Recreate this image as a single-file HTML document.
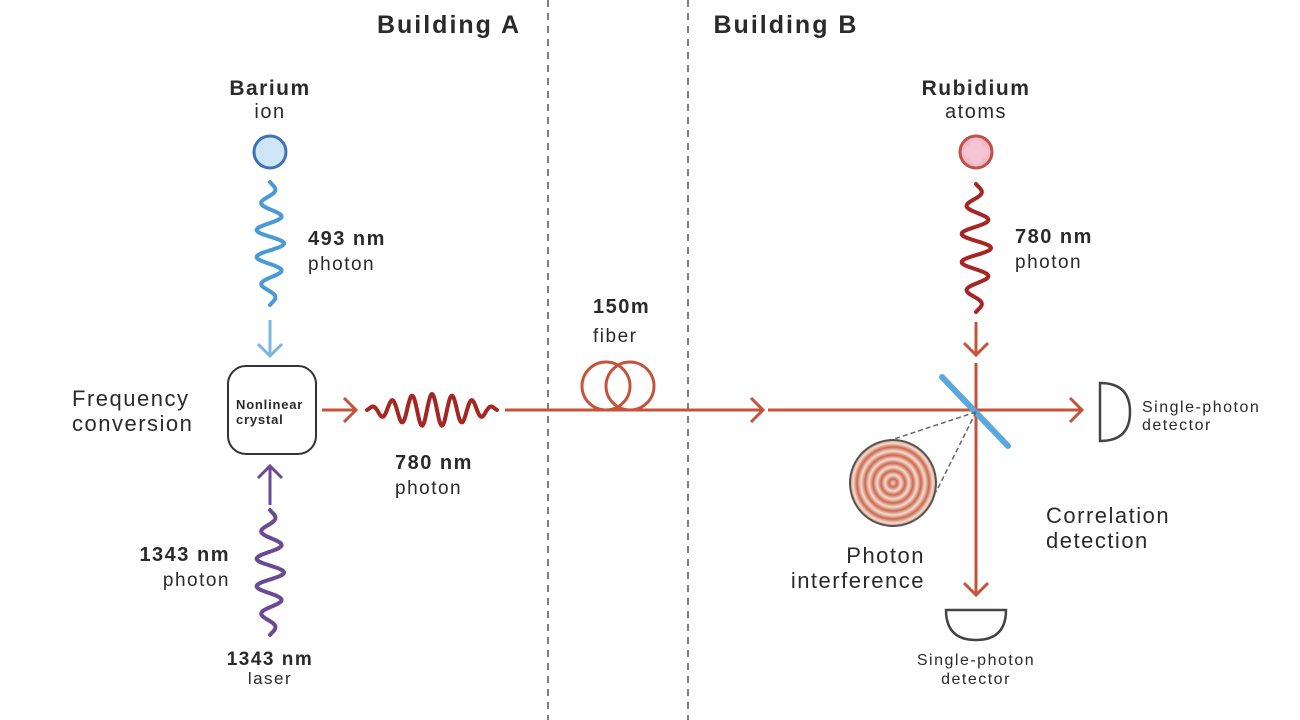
<!DOCTYPE html>
<html><head><meta charset="utf-8"><style>
body{margin:0;background:#fff}
svg{display:block}
text{font-family:"Liberation Sans",sans-serif;fill:#2a2a2a;letter-spacing:1.5px}
</style></head><body>
<svg id="s" width="1300" height="720" viewBox="0 0 1300 720" xmlns="http://www.w3.org/2000/svg">
<line x1="548" y1="0" x2="548" y2="720" stroke="#555" stroke-width="1.5" stroke-dasharray="7,6"/>
<line x1="688" y1="0" x2="688" y2="720" stroke="#555" stroke-width="1.5" stroke-dasharray="7,6"/>
<text x="449" y="33" font-size="25" text-anchor="middle" font-weight="bold" fill="#333" style="letter-spacing:2px">Building A</text>
<text x="786" y="33" font-size="25" text-anchor="middle" font-weight="bold" fill="#333" style="letter-spacing:2px">Building B</text>

<text x="270" y="95" font-size="21" font-weight="bold" text-anchor="middle">Barium</text>
<text x="270" y="118" font-size="20" text-anchor="middle" fill="#444">ion</text>
<circle cx="270" cy="152" r="16" fill="#cfe6f8" stroke="#3f72b0" stroke-width="3"/>
<path id="w1" fill="none" stroke="#4a9ad6" stroke-width="4" stroke-linecap="round"/>
<path d="M270 320V356M258 344L270 356L282 344" fill="none" stroke="#7ab6e2" stroke-width="3"/>
<text x="308" y="245" font-size="20" font-weight="bold">493 nm</text>
<text x="308" y="270" font-size="19" fill="#444">photon</text>

<rect x="228" y="366" width="88" height="88" rx="18" fill="#fff" stroke="#333" stroke-width="2"/>
<text x="236" y="409" font-size="13" font-weight="bold" fill="#444" style="letter-spacing:0.8px">Nonlinear</text>
<text x="236" y="424" font-size="13" font-weight="bold" fill="#444" style="letter-spacing:0.8px">crystal</text>
<text x="72" y="406" font-size="22">Frequency</text>
<text x="72" y="431" font-size="22">conversion</text>
<path d="M322 410H356M344 398L356 410L344 422" fill="none" stroke="#c5533a" stroke-width="3"/>
<path id="w2" fill="none" stroke="#a52622" stroke-width="4" stroke-linecap="round"/>
<text x="395" y="469" font-size="20" font-weight="bold">780 nm</text>
<text x="395" y="494" font-size="19" fill="#444">photon</text>

<path d="M270 505V466M258 478L270 466L282 478" fill="none" stroke="#6b4a94" stroke-width="3"/>
<path id="w3" fill="none" stroke="#6b4a94" stroke-width="4" stroke-linecap="round"/>
<text x="230" y="561" font-size="20" font-weight="bold" text-anchor="end">1343 nm</text>
<text x="230" y="586" font-size="19" text-anchor="end" fill="#444">photon</text>
<text x="270" y="665" font-size="19" font-weight="bold" text-anchor="middle">1343 nm</text>
<text x="270" y="684" font-size="17" text-anchor="middle" fill="#444">laser</text>

<text x="593" y="313" font-size="20" font-weight="bold">150m</text>
<text x="593" y="342" font-size="19" fill="#444">fiber</text>
<g fill="none" stroke="#c5533a" stroke-width="3">
<path d="M505 410H763M751 398L763 410L751 422"/>
<circle cx="606" cy="386" r="24"/>
<circle cx="630" cy="386" r="24"/>
<path d="M768 410H1082M1070 398L1082 410L1070 422"/>
<path d="M976 322V355M964 343L976 355L988 343"/>
<path d="M976 363V595M964 583L976 595L988 583"/>
</g>

<text x="976" y="95" font-size="21" font-weight="bold" text-anchor="middle">Rubidium</text>
<text x="976" y="118" font-size="20" text-anchor="middle" fill="#444">atoms</text>
<circle cx="976" cy="152" r="16" fill="#f5b8c9" stroke="#c0504a" stroke-width="3"/>
<rect x="966" y="142" width="20" height="20" transform="rotate(45 976 152)" fill="#f2c9d8" opacity="0.7"/>
<path id="w4" fill="none" stroke="#a52622" stroke-width="4" stroke-linecap="round"/>
<text x="1015" y="243" font-size="20" font-weight="bold">780 nm</text>
<text x="1015" y="268" font-size="19" fill="#444">photon</text>

<line x1="942" y1="377" x2="1008" y2="446" stroke="#5aa8dc" stroke-width="6" stroke-linecap="round"/>
<path d="M1100 383Q1130 383 1130 412Q1130 441 1100 441Z" fill="#fff" stroke="#444" stroke-width="2.5"/>
<text x="1142" y="412" font-size="16" fill="#333">Single-photon</text>
<text x="1142" y="430" font-size="16" fill="#333">detector</text>
<path d="M946 610H1006Q1006 640 976 640Q946 640 946 610Z" fill="#fff" stroke="#444" stroke-width="2.5"/>
<text x="976" y="665" font-size="16" text-anchor="middle" fill="#333">Single-photon</text>
<text x="976" y="684" font-size="16" text-anchor="middle" fill="#333">detector</text>

<line x1="976" y1="412" x2="888" y2="441" stroke="#666" stroke-width="1.5" stroke-dasharray="5,3"/>
<line x1="976" y1="412" x2="936" y2="492" stroke="#666" stroke-width="1.5" stroke-dasharray="5,3"/>
<defs>
<radialGradient id="rg2" gradientUnits="userSpaceOnUse" cx="893" cy="483" r="8" spreadMethod="repeat">
<stop offset="0" stop-color="#f6dcd0"/><stop offset="0.5" stop-color="#c96a50"/><stop offset="1" stop-color="#f6dcd0"/></radialGradient></defs>
<circle cx="893" cy="483" r="43" fill="url(#rg2)" stroke="#555" stroke-width="2"/>
<text x="925" y="563" font-size="22" text-anchor="end">Photon</text>
<text x="925" y="588" font-size="22" text-anchor="end">interference</text>
<text x="1046" y="523" font-size="22">Correlation</text>
<text x="1046" y="548" font-size="22">detection</text>
</svg>
<script>
function wave(id,x0,y0,x1,y1,amp,cycles,vertical,base){
 var n=200,d="";
 for(var i=0;i<=n;i++){var t=i/n;var env=Math.sin(Math.PI*t);env=base+(1-base)*env;
  var o=amp*env*Math.sin(2*Math.PI*cycles*t);
  var x,y; if(vertical){y=y0+(y1-y0)*t;x=x0+o;}else{x=x0+(x1-x0)*t;y=y0-o;}
  d+=(i?"L":"M")+x.toFixed(1)+" "+y.toFixed(1);}
 document.getElementById(id).setAttribute("d",d);}
wave("w1",270,182,270,305,14,4.5,true,0.25);
wave("w2",367,410,497,410,16,6.5,false,0.1);
wave("w3",270,510,270,635,14,4.5,true,0.25);
wave("w4",976,184,976,312,15,4.5,true,0.25);
</script>
</body></html>
